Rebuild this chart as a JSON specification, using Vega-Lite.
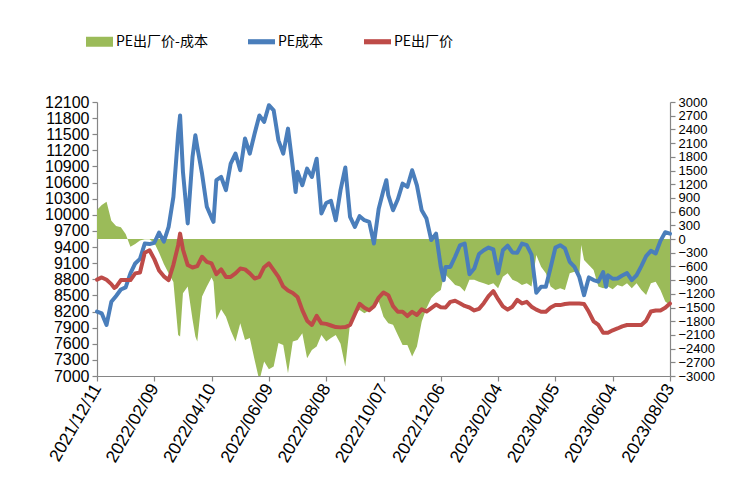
{
  "$schema": "https://vega.github.io/schema/vega-lite/v6.json",
  "width": 573,
  "height": 274,
  "autosize": {"type": "none"},
  "padding": {"left": 97, "top": 102, "right": 86, "bottom": 123},
  "background": "white",
  "datasets": {
    "spread": [
      {"date": "2021-12-11", "v": 635}, {"date": "2021-12-16", "v": 745}, {"date": "2021-12-21", "v": 815},
      {"date": "2021-12-26", "v": 400}, {"date": "2021-12-31", "v": 285}, {"date": "2022-01-05", "v": 255},
      {"date": "2022-01-10", "v": 110}, {"date": "2022-01-15", "v": -170}, {"date": "2022-01-20", "v": -110},
      {"date": "2022-01-25", "v": -35}, {"date": "2022-01-30", "v": -5}, {"date": "2022-02-04", "v": -5},
      {"date": "2022-02-09", "v": -80}, {"date": "2022-02-14", "v": -300}, {"date": "2022-02-19", "v": -545},
      {"date": "2022-02-24", "v": -750}, {"date": "2022-03-01", "v": -940}, {"date": "2022-03-06", "v": -2100},
      {"date": "2022-03-08", "v": -2135}, {"date": "2022-03-11", "v": -1190}, {"date": "2022-03-16", "v": -1040},
      {"date": "2022-03-21", "v": -1755}, {"date": "2022-03-24", "v": -2135}, {"date": "2022-03-26", "v": -2245},
      {"date": "2022-03-31", "v": -1260}, {"date": "2022-04-05", "v": -1040}, {"date": "2022-04-10", "v": -845},
      {"date": "2022-04-12", "v": -935}, {"date": "2022-04-15", "v": -1770}, {"date": "2022-04-20", "v": -1540},
      {"date": "2022-04-25", "v": -1700}, {"date": "2022-04-30", "v": -2005}, {"date": "2022-05-05", "v": -2245},
      {"date": "2022-05-10", "v": -1845}, {"date": "2022-05-15", "v": -2210}, {"date": "2022-05-20", "v": -2170},
      {"date": "2022-05-25", "v": -2645}, {"date": "2022-05-30", "v": -3100}, {"date": "2022-06-04", "v": -2685},
      {"date": "2022-06-09", "v": -2850}, {"date": "2022-06-14", "v": -2790}, {"date": "2022-06-19", "v": -2280},
      {"date": "2022-06-24", "v": -2320}, {"date": "2022-06-29", "v": -2940}, {"date": "2022-07-04", "v": -2245},
      {"date": "2022-07-09", "v": -2210}, {"date": "2022-07-14", "v": -2065}, {"date": "2022-07-19", "v": -2610},
      {"date": "2022-07-24", "v": -2430}, {"date": "2022-07-29", "v": -2355}, {"date": "2022-08-03", "v": -2100},
      {"date": "2022-08-08", "v": -2245}, {"date": "2022-08-13", "v": -2170}, {"date": "2022-08-18", "v": -2100},
      {"date": "2022-08-23", "v": -2295}, {"date": "2022-08-28", "v": -2790}, {"date": "2022-09-02", "v": -1845},
      {"date": "2022-09-07", "v": -1625}, {"date": "2022-09-12", "v": -1555}, {"date": "2022-09-17", "v": -1625},
      {"date": "2022-09-22", "v": -1565}, {"date": "2022-09-27", "v": -1530}, {"date": "2022-10-02", "v": -1370},
      {"date": "2022-10-07", "v": -1700}, {"date": "2022-10-12", "v": -1845}, {"date": "2022-10-17", "v": -1880},
      {"date": "2022-10-22", "v": -2100}, {"date": "2022-10-27", "v": -2320}, {"date": "2022-11-01", "v": -2320},
      {"date": "2022-11-06", "v": -2575}, {"date": "2022-11-11", "v": -2355}, {"date": "2022-11-16", "v": -1810},
      {"date": "2022-11-21", "v": -1515}, {"date": "2022-11-26", "v": -1300}, {"date": "2022-12-01", "v": -1190},
      {"date": "2022-12-06", "v": -1115}, {"date": "2022-12-09", "v": -825}, {"date": "2022-12-11", "v": -785},
      {"date": "2022-12-16", "v": -895}, {"date": "2022-12-21", "v": -1005}, {"date": "2022-12-26", "v": -1040},
      {"date": "2022-12-31", "v": -1150}, {"date": "2023-01-05", "v": -895}, {"date": "2023-01-10", "v": -895},
      {"date": "2023-01-15", "v": -935}, {"date": "2023-01-20", "v": -970}, {"date": "2023-01-25", "v": -1005},
      {"date": "2023-01-30", "v": -970}, {"date": "2023-02-04", "v": -1080}, {"date": "2023-02-09", "v": -825},
      {"date": "2023-02-14", "v": -750}, {"date": "2023-02-19", "v": -895}, {"date": "2023-02-24", "v": -935},
      {"date": "2023-03-01", "v": -1005}, {"date": "2023-03-06", "v": -970}, {"date": "2023-03-11", "v": -1040},
      {"date": "2023-03-16", "v": -350}, {"date": "2023-03-21", "v": -605}, {"date": "2023-03-26", "v": -750},
      {"date": "2023-03-31", "v": -1040}, {"date": "2023-04-05", "v": -1115}, {"date": "2023-04-10", "v": -1080},
      {"date": "2023-04-15", "v": -1115}, {"date": "2023-04-20", "v": -750}, {"date": "2023-04-25", "v": -715},
      {"date": "2023-04-30", "v": -825}, {"date": "2023-05-02", "v": -130}, {"date": "2023-05-05", "v": -460},
      {"date": "2023-05-10", "v": -570}, {"date": "2023-05-15", "v": -680}, {"date": "2023-05-20", "v": -1040},
      {"date": "2023-05-25", "v": -1080}, {"date": "2023-05-30", "v": -1040}, {"date": "2023-06-04", "v": -1100},
      {"date": "2023-06-09", "v": -1005}, {"date": "2023-06-14", "v": -1040}, {"date": "2023-06-19", "v": -970},
      {"date": "2023-06-24", "v": -1080}, {"date": "2023-06-29", "v": -970}, {"date": "2023-07-04", "v": -1115},
      {"date": "2023-07-09", "v": -1225}, {"date": "2023-07-14", "v": -970}, {"date": "2023-07-19", "v": -935},
      {"date": "2023-07-24", "v": -1115}, {"date": "2023-07-29", "v": -1370}, {"date": "2023-08-03", "v": -1445}
    ],
    "cost": [
      {"date": "2021-12-11", "v": 8200}, {"date": "2021-12-16", "v": 8165}, {"date": "2021-12-21", "v": 7950},
      {"date": "2021-12-26", "v": 8380}, {"date": "2021-12-31", "v": 8490}, {"date": "2022-01-05", "v": 8610},
      {"date": "2022-01-10", "v": 8650}, {"date": "2022-01-15", "v": 8910}, {"date": "2022-01-20", "v": 9095},
      {"date": "2022-01-25", "v": 9180}, {"date": "2022-01-30", "v": 9465}, {"date": "2022-02-04", "v": 9455},
      {"date": "2022-02-09", "v": 9480}, {"date": "2022-02-14", "v": 9670}, {"date": "2022-02-19", "v": 9500},
      {"date": "2022-02-24", "v": 9775}, {"date": "2022-03-01", "v": 10335}, {"date": "2022-03-06", "v": 11510},
      {"date": "2022-03-08", "v": 11850}, {"date": "2022-03-11", "v": 10800}, {"date": "2022-03-16", "v": 9840},
      {"date": "2022-03-21", "v": 11075}, {"date": "2022-03-24", "v": 11480}, {"date": "2022-03-26", "v": 11265},
      {"date": "2022-03-31", "v": 10765}, {"date": "2022-04-05", "v": 10150}, {"date": "2022-04-10", "v": 9945},
      {"date": "2022-04-12", "v": 9870}, {"date": "2022-04-15", "v": 10645}, {"date": "2022-04-20", "v": 10705},
      {"date": "2022-04-25", "v": 10460}, {"date": "2022-04-30", "v": 10955}, {"date": "2022-05-05", "v": 11140},
      {"date": "2022-05-10", "v": 10830}, {"date": "2022-05-15", "v": 11420}, {"date": "2022-05-20", "v": 11140},
      {"date": "2022-05-25", "v": 11510}, {"date": "2022-05-30", "v": 11850}, {"date": "2022-06-04", "v": 11730},
      {"date": "2022-06-09", "v": 12040}, {"date": "2022-06-14", "v": 11945}, {"date": "2022-06-19", "v": 11385},
      {"date": "2022-06-24", "v": 11140}, {"date": "2022-06-29", "v": 11605}, {"date": "2022-07-04", "v": 10890},
      {"date": "2022-07-07", "v": 10425}, {"date": "2022-07-09", "v": 10800}, {"date": "2022-07-14", "v": 10550},
      {"date": "2022-07-19", "v": 10860}, {"date": "2022-07-24", "v": 10705}, {"date": "2022-07-29", "v": 11045},
      {"date": "2022-08-03", "v": 10025}, {"date": "2022-08-08", "v": 10220}, {"date": "2022-08-13", "v": 10260},
      {"date": "2022-08-18", "v": 9900}, {"date": "2022-08-23", "v": 10460}, {"date": "2022-08-28", "v": 10880},
      {"date": "2022-09-02", "v": 9960}, {"date": "2022-09-07", "v": 9775}, {"date": "2022-09-12", "v": 9975},
      {"date": "2022-09-17", "v": 9900}, {"date": "2022-09-22", "v": 9870}, {"date": "2022-09-27", "v": 9465},
      {"date": "2022-10-02", "v": 10115}, {"date": "2022-10-07", "v": 10460}, {"date": "2022-10-10", "v": 10645},
      {"date": "2022-10-12", "v": 10365}, {"date": "2022-10-17", "v": 10085}, {"date": "2022-10-22", "v": 10290},
      {"date": "2022-10-27", "v": 10580}, {"date": "2022-11-01", "v": 10520}, {"date": "2022-11-06", "v": 10830},
      {"date": "2022-11-11", "v": 10550}, {"date": "2022-11-16", "v": 10085}, {"date": "2022-11-21", "v": 9930},
      {"date": "2022-11-26", "v": 9530}, {"date": "2022-12-01", "v": 9650}, {"date": "2022-12-06", "v": 9030},
      {"date": "2022-12-09", "v": 8785}, {"date": "2022-12-11", "v": 9030}, {"date": "2022-12-16", "v": 9030},
      {"date": "2022-12-21", "v": 9220}, {"date": "2022-12-26", "v": 9430}, {"date": "2022-12-31", "v": 9465},
      {"date": "2023-01-05", "v": 8895}, {"date": "2023-01-10", "v": 9000}, {"date": "2023-01-15", "v": 9270},
      {"date": "2023-01-20", "v": 9340}, {"date": "2023-01-25", "v": 9390}, {"date": "2023-01-30", "v": 9355},
      {"date": "2023-02-04", "v": 8910}, {"date": "2023-02-09", "v": 9340}, {"date": "2023-02-14", "v": 9425},
      {"date": "2023-02-19", "v": 9300}, {"date": "2023-02-24", "v": 9295}, {"date": "2023-03-01", "v": 9465},
      {"date": "2023-03-06", "v": 9435}, {"date": "2023-03-11", "v": 9260}, {"date": "2023-03-16", "v": 8550},
      {"date": "2023-03-21", "v": 8660}, {"date": "2023-03-26", "v": 8660}, {"date": "2023-03-31", "v": 9020},
      {"date": "2023-04-05", "v": 9390}, {"date": "2023-04-10", "v": 9435}, {"date": "2023-04-15", "v": 9375},
      {"date": "2023-04-20", "v": 9125}, {"date": "2023-04-25", "v": 9030}, {"date": "2023-04-30", "v": 8845},
      {"date": "2023-05-05", "v": 8505}, {"date": "2023-05-10", "v": 8835}, {"date": "2023-05-15", "v": 8785},
      {"date": "2023-05-20", "v": 8755}, {"date": "2023-05-25", "v": 8935}, {"date": "2023-05-28", "v": 8660},
      {"date": "2023-05-30", "v": 8875}, {"date": "2023-06-04", "v": 8810}, {"date": "2023-06-09", "v": 8815},
      {"date": "2023-06-14", "v": 8870}, {"date": "2023-06-19", "v": 8915}, {"date": "2023-06-24", "v": 8785},
      {"date": "2023-06-29", "v": 8875}, {"date": "2023-07-04", "v": 9045}, {"date": "2023-07-09", "v": 9230},
      {"date": "2023-07-14", "v": 9330}, {"date": "2023-07-19", "v": 9280}, {"date": "2023-07-24", "v": 9515},
      {"date": "2023-07-29", "v": 9675}, {"date": "2023-08-03", "v": 9650}
    ],
    "price": [
      {"date": "2021-12-11", "v": 8795}, {"date": "2021-12-16", "v": 8835}, {"date": "2021-12-21", "v": 8790},
      {"date": "2021-12-26", "v": 8710}, {"date": "2021-12-29", "v": 8640}, {"date": "2021-12-31", "v": 8660},
      {"date": "2022-01-05", "v": 8785}, {"date": "2022-01-10", "v": 8785}, {"date": "2022-01-15", "v": 8785},
      {"date": "2022-01-20", "v": 8910}, {"date": "2022-01-25", "v": 8925}, {"date": "2022-01-30", "v": 9295},
      {"date": "2022-02-04", "v": 9340}, {"date": "2022-02-09", "v": 9175}, {"date": "2022-02-14", "v": 8965},
      {"date": "2022-02-19", "v": 8855}, {"date": "2022-02-24", "v": 8785}, {"date": "2022-03-01", "v": 9070},
      {"date": "2022-03-06", "v": 9435}, {"date": "2022-03-08", "v": 9650}, {"date": "2022-03-11", "v": 9355},
      {"date": "2022-03-16", "v": 9065}, {"date": "2022-03-21", "v": 9020}, {"date": "2022-03-26", "v": 9045},
      {"date": "2022-03-31", "v": 9220}, {"date": "2022-04-05", "v": 9125}, {"date": "2022-04-10", "v": 9095},
      {"date": "2022-04-15", "v": 8895}, {"date": "2022-04-20", "v": 8985}, {"date": "2022-04-25", "v": 8845},
      {"date": "2022-04-30", "v": 8845}, {"date": "2022-05-05", "v": 8910}, {"date": "2022-05-10", "v": 9000},
      {"date": "2022-05-15", "v": 8985}, {"date": "2022-05-20", "v": 8910}, {"date": "2022-05-25", "v": 8815},
      {"date": "2022-05-30", "v": 8845}, {"date": "2022-06-04", "v": 9025}, {"date": "2022-06-09", "v": 9095},
      {"date": "2022-06-14", "v": 8970}, {"date": "2022-06-19", "v": 8845}, {"date": "2022-06-24", "v": 8665},
      {"date": "2022-06-29", "v": 8590}, {"date": "2022-07-04", "v": 8545}, {"date": "2022-07-09", "v": 8470},
      {"date": "2022-07-14", "v": 8225}, {"date": "2022-07-19", "v": 8030}, {"date": "2022-07-24", "v": 7950},
      {"date": "2022-07-29", "v": 8120}, {"date": "2022-08-03", "v": 7980}, {"date": "2022-08-08", "v": 7970},
      {"date": "2022-08-13", "v": 7940}, {"date": "2022-08-18", "v": 7910}, {"date": "2022-08-23", "v": 7905},
      {"date": "2022-08-28", "v": 7910}, {"date": "2022-09-02", "v": 7950}, {"date": "2022-09-07", "v": 8150},
      {"date": "2022-09-12", "v": 8345}, {"date": "2022-09-17", "v": 8270}, {"date": "2022-09-22", "v": 8225},
      {"date": "2022-09-27", "v": 8300}, {"date": "2022-10-02", "v": 8460}, {"date": "2022-10-07", "v": 8555},
      {"date": "2022-10-12", "v": 8505}, {"date": "2022-10-17", "v": 8300}, {"date": "2022-10-22", "v": 8195},
      {"date": "2022-10-27", "v": 8195}, {"date": "2022-11-01", "v": 8115}, {"date": "2022-11-06", "v": 8195},
      {"date": "2022-11-11", "v": 8135}, {"date": "2022-11-16", "v": 8240}, {"date": "2022-11-21", "v": 8200},
      {"date": "2022-11-26", "v": 8265}, {"date": "2022-12-01", "v": 8330}, {"date": "2022-12-06", "v": 8280},
      {"date": "2022-12-11", "v": 8275}, {"date": "2022-12-16", "v": 8380}, {"date": "2022-12-21", "v": 8400},
      {"date": "2022-12-26", "v": 8355}, {"date": "2022-12-31", "v": 8305}, {"date": "2023-01-05", "v": 8275},
      {"date": "2023-01-10", "v": 8220}, {"date": "2023-01-15", "v": 8250}, {"date": "2023-01-20", "v": 8355},
      {"date": "2023-01-25", "v": 8485}, {"date": "2023-01-30", "v": 8580}, {"date": "2023-02-04", "v": 8430},
      {"date": "2023-02-09", "v": 8295}, {"date": "2023-02-14", "v": 8235}, {"date": "2023-02-19", "v": 8290},
      {"date": "2023-02-24", "v": 8415}, {"date": "2023-03-01", "v": 8350}, {"date": "2023-03-06", "v": 8380},
      {"date": "2023-03-11", "v": 8290}, {"date": "2023-03-16", "v": 8235}, {"date": "2023-03-21", "v": 8195},
      {"date": "2023-03-26", "v": 8195}, {"date": "2023-03-31", "v": 8275}, {"date": "2023-04-05", "v": 8320},
      {"date": "2023-04-10", "v": 8320}, {"date": "2023-04-15", "v": 8340}, {"date": "2023-04-20", "v": 8350},
      {"date": "2023-04-25", "v": 8350}, {"date": "2023-04-30", "v": 8350}, {"date": "2023-05-05", "v": 8340},
      {"date": "2023-05-10", "v": 8195}, {"date": "2023-05-15", "v": 8015}, {"date": "2023-05-20", "v": 7950},
      {"date": "2023-05-25", "v": 7805}, {"date": "2023-05-30", "v": 7805}, {"date": "2023-06-04", "v": 7850},
      {"date": "2023-06-09", "v": 7885}, {"date": "2023-06-14", "v": 7925}, {"date": "2023-06-19", "v": 7950},
      {"date": "2023-06-24", "v": 7950}, {"date": "2023-06-29", "v": 7950}, {"date": "2023-07-04", "v": 7950},
      {"date": "2023-07-09", "v": 8030}, {"date": "2023-07-14", "v": 8200}, {"date": "2023-07-19", "v": 8220},
      {"date": "2023-07-24", "v": 8220}, {"date": "2023-07-29", "v": 8270}, {"date": "2023-08-03", "v": 8350}
    ]
  },
  "encoding": {
    "x": {
      "field": "date", "type": "temporal",
      "scale": {"type": "utc", "domain": [{"year": 2021, "month": 12, "date": 11, "utc": true}, {"year": 2023, "month": 8, "date": 3, "utc": true}]},
      "axis": {
        "title": null, "grid": false,
        "labelExpr": "utcFormat(datum.value, '%Y/%m/%d')",
        "values": [
          {"year": 2021, "month": 12, "date": 11, "utc": true}, {"year": 2022, "month": 2, "date": 9, "utc": true},
          {"year": 2022, "month": 4, "date": 10, "utc": true}, {"year": 2022, "month": 6, "date": 9, "utc": true},
          {"year": 2022, "month": 8, "date": 8, "utc": true}, {"year": 2022, "month": 10, "date": 7, "utc": true},
          {"year": 2022, "month": 12, "date": 6, "utc": true}, {"year": 2023, "month": 2, "date": 4, "utc": true},
          {"year": 2023, "month": 4, "date": 5, "utc": true}, {"year": 2023, "month": 6, "date": 4, "utc": true},
          {"year": 2023, "month": 8, "date": 3, "utc": true}
        ],
        "labelAngle": -60, "labelFlush": false, "labelOverlap": false, "labelPadding": 4, "labelFontSize": 17.5
      }
    },
    "color": {
      "scale": {"domain": ["PE出厂价-成本", "PE成本", "PE出厂价"], "range": ["#9BBB59", "#4A7EBB", "#BE4B48"]},
      "legend": {
        "title": null, "orient": "none", "direction": "horizontal", "legendX": -11, "legendY": -74,
        "padding": 0, "columnPadding": 40, "labelOffset": 3, "symbolSize": 729, "labelLimit": 300,
        "symbolType": "M-1,-0.28H1V0.28H-1Z", "symbolStrokeWidth": 0, "symbolOpacity": 1,
        "labelFont": "Noto Sans CJK SC", "labelFontSize": 14, "labelColor": "#000000",
        "encode": {
          "symbols": {
            "update": {
              "shape": {"signal": "datum.value === 'PE出厂价-成本' ? 'M-1,-0.37H1V0.37H-1Z' : 'M-1,-0.19H1V0.19H-1Z'"}
            }
          }
        }
      }
    }
  },
  "layer": [
    {
      "data": {"name": "spread"},
      "mark": {"type": "area", "clip": true, "opacity": 1},
      "encoding": {
        "y": {
          "field": "v", "type": "quantitative",
          "scale": {"domain": [-3000, 3000], "nice": false, "zero": false},
          "axis": {
            "orient": "right", "title": null, "grid": false, "labelOverlap": false, "labelFlush": false,
            "format": "d", "labelFontSize": 13,
            "values": [-3000, -2700, -2400, -2100, -1800, -1500, -1200, -900, -600, -300, 0, 300, 600, 900, 1200, 1500, 1800, 2100, 2400, 2700, 3000]
          }
        },
        "y2": {"datum": 0},
        "color": {"datum": "PE出厂价-成本"}
      }
    },
    {
      "encoding": {
        "y": {
          "field": "v", "type": "quantitative",
          "scale": {"domain": [7000, 12100], "nice": false, "zero": false},
          "axis": {
            "orient": "left", "title": null, "grid": false, "labelOverlap": false, "labelFlush": false,
            "format": "d", "labelFontSize": 16,
            "values": [7000, 7300, 7600, 7900, 8200, 8500, 8800, 9100, 9400, 9700, 10000, 10300, 10600, 10900, 11200, 11500, 11800, 12100]
          }
        }
      },
      "layer": [
        {
          "data": {"name": "cost"},
          "mark": {"type": "line", "strokeWidth": 4, "strokeJoin": "round", "strokeCap": "round"},
          "encoding": {"color": {"datum": "PE成本"}}
        },
        {
          "data": {"name": "price"},
          "mark": {"type": "line", "strokeWidth": 4, "strokeJoin": "round", "strokeCap": "round"},
          "encoding": {"color": {"datum": "PE出厂价"}}
        }
      ]
    }
  ],
  "resolve": {"scale": {"y": "independent"}, "axis": {"y": "independent"}},
  "config": {
    "view": {"stroke": null},
    "font": "Liberation Sans",
    "axis": {
      "domainColor": "#868686", "tickColor": "#868686", "domainWidth": 1.2, "tickWidth": 1.2, "tickSize": 5,
      "labelFont": "Liberation Sans", "labelColor": "#000000", "labelPadding": 3
    }
  }
}
